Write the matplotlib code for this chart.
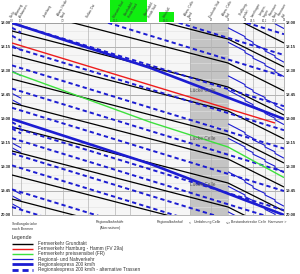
import matplotlib
matplotlib.use('Agg')
import matplotlib.pyplot as plt
from matplotlib.lines import Line2D
from matplotlib.patches import Rectangle

plt.rcParams['font.family'] = ['Liberation Sans', 'DejaVu Sans']

# ---------------- data ----------------
station_km = [0, 9, 33, 51, 76, 103, 118, 138, 153, 178, 199, 216, 233, 241, 253, 263, 272]
station_names = ["Stelle", "Abzweig\nAshausen", "Jesteburg", "Abzw. Heide\nNord",
                 "Soltau Ost", "Munster Süd", "Überholbhf.\nHeide Nord", "Überholbhf.\nHeide Süd",
                 "Unterlüß", "Abzw. Celle\nNord", "Eschede Süd", "Abzw. Celle\nSüd",
                 "Großburg-\nwedel", "Isernhagen", "Langen-\nhagen", "Hannover\nNord", "Hannover\nHbf"]
station_marks = ["0,0", "1,3", "", "7,2", "", "12,1", "", "", "19,3", "25", "28", "31", "33", "34,5", "36,2", "37,9", "39"]

time_ticks = [0, 15, 30, 45, 60, 75, 90, 105, 120]
time_labels = ["18.00", "18.15", "18.30", "18.45", "19.00", "19.15", "19.30", "19.45", "20.00"]

# running-time profiles (km, minutes after departure at first point)
black_km = [0, 216, 272]
black_min = [0, 35, 52.5]
black_dep = [-40, -25, -10, 5, 20, 35, 50, 65, 80, 95, 110]

red_km = [0, 263]
red_min = [0, 50]
red_dep = [12.5]

green_km = [0, 138, 216, 272]
green_min = [0, 31.3, 46.9, 66]
green_dep = [30.6]

re_km = [0, 138, 272]
re_min = [0, 28, 60]
re_dep = [0, 60]

alt_km = [0, 272]
alt_min = [0, 52]
alt_dep = [-45, -32, -18.5, 0, 15, 26.5, 41, 53, 65, 72, 81.5, 89, 104, 115]

reg_km = [216, 233, 233, 241, 241, 253, 253, 263, 263, 272]
reg_min = [0, 5.5, 6.5, 9, 10, 13.5, 14.5, 17.5, 18.5, 21.5]
reg_dep = [-18, 3, 12, 33, 42, 63, 72, 93, 102, 118]

short_km = [0, 9]
short_min = [0, 3]
short_dep = [14, 30, 44, 48, 75, 78, 104, 108, 113]

short_alt_dep = [3, 8, 62, 66]

luecke_min = [42, 72, 101]

# ---------------- figure ----------------
W, H = 300, 274
fig = plt.figure(figsize=(W / 100, H / 100), dpi=100)
L, R, T, B = 12, 284, 23, 215
ax = fig.add_axes([L / W, 1 - B / H, (R - L) / W, (B - T) / H])
ax.set_xlim(0, 272)
ax.set_ylim(120, 0)
ax.set_facecolor('#f6f6f6')
for s in ax.spines.values():
    s.set_color('#999999')
    s.set_linewidth(0.5)

# grey band (Umfahrung Celle)
ax.axvspan(178, 216, color='#c4c4c4', zorder=0.5, lw=0)

# grid
for m in range(0, 121, 5):
    ax.axhline(m, color='#e2e2e2' if m % 15 else '#a8a8a8', lw=0.4 if m % 15 else 0.6, zorder=0.6)
for k in station_km:
    ax.axvline(k, color='#b4b4b4', lw=0.5, zorder=0.7)

blue = '#1c1cd2'

def draw(kms, mins, deps, **kw):
    for d in deps:
        ax.plot(kms, [d + m for m in mins], solid_capstyle='butt', **kw)

draw(reg_km, reg_min, reg_dep, color=blue, lw=0.8, zorder=2)
draw(short_km, short_min, short_dep, color=blue, lw=0.8, zorder=2)
draw(black_km, black_min, black_dep, color='black', lw=0.9, zorder=3)
draw(alt_km, alt_min, alt_dep, color=blue, lw=1.4, dashes=(2.2, 1.6), zorder=3)
draw(short_km, short_min, short_alt_dep, color=blue, lw=1.4, dashes=(2.2, 1.6), zorder=3)
draw(red_km, red_min, red_dep, color='#ee1c1c', lw=1.0, zorder=4)
draw(green_km, green_min, green_dep, color='#3de03d', lw=1.0, zorder=4)
draw(re_km, re_min, re_dep, color=blue, lw=1.9, zorder=5)

for m in luecke_min:
    ax.text(191, m, "Lücke Celle", fontsize=3.4, color='#555555', ha='center', va='center', zorder=6)

ax.set_xticks([])
ax.set_yticks([])

# time labels left/right
for m, lab in zip(time_ticks, time_labels):
    ax.text(-1.2, m, lab, fontsize=2.9, fontweight='bold', ha='right', va='center', color='#222222')
    ax.text(274, m, lab, fontsize=2.9, fontweight='bold', ha='left', va='center', color='#222222')

# green boxes at top
fig.add_artist(Rectangle((110 / W, 1 - 22 / H), 37 / W, 22 / H, transform=fig.transFigure,
                         color='#10ee10', lw=0, zorder=0))
fig.add_artist(Rectangle((159 / W, 1 - 22 / H), 15 / W, 10 / H, transform=fig.transFigure,
                         color='#10ee10', lw=0, zorder=0))

# station labels
for k, name, mk in zip(station_km, station_names, station_marks):
    ax.text(k + 0.5, -3.0, name, fontsize=2.3, rotation=60, ha='left', va='bottom',
            color='#333333', rotation_mode='anchor', linespacing=1.0)
    ax.text(k, -0.6, mk, fontsize=2.0, ha='center', va='bottom', color='#444444')

# bottom labels
fs_b = 2.5
ax.text(0, 124.5, "Siedlungsbrücke\nnach Bremen", fontsize=fs_b, ha='left', va='top', color='#333333', linespacing=1.2)
ax.text(98, 123, "Regionalbahnhöfe\n(Alternativen)", fontsize=fs_b, ha='center', va='top', color='#333333', linespacing=1.7)
ax.text(158, 123, "Regionalbahnhof", fontsize=fs_b, ha='center', va='top', color='#333333')
ax.text(178, 123, "<", fontsize=fs_b, ha='center', va='top', color='#333333')
ax.text(195, 123, "Umfahrung Celle", fontsize=fs_b, ha='center', va='top', color='#333333')
ax.text(216, 123, "<->", fontsize=fs_b, ha='center', va='top', color='#333333')
ax.text(237, 123, "Bestandsstrecke Celle", fontsize=fs_b, ha='center', va='top', color='#333333')
ax.text(265, 123, "Hannover >", fontsize=fs_b, ha='center', va='top', color='#333333')

# legend
legend_labels = ["Fernverkehr Grundtakt", "Fernverkehr Hamburg - Hamm (FV 29a)",
                 "Fernverkehr preissensibel (FR)", "Regional- und Nahverkehr",
                 "Regionalexpress 200 km/h", "Regionalexpress 200 km/h - alternative Trassen"]
legend_styles = [dict(color='black', lw=1.0), dict(color='#ee1c1c', lw=1.0),
                 dict(color='#3de03d', lw=1.0), dict(color=blue, lw=0.9),
                 dict(color=blue, lw=2.0), dict(color=blue, lw=2.0, dashes=(2.2, 1.4))]
fig.text(12 / W, 1 - 238 / H, "Legende", fontsize=3.8, ha='left', va='center', color='#333333')
for i, (lab, st) in enumerate(zip(legend_labels, legend_styles)):
    y = 1 - (243.5 + i * 5.2) / H
    fig.add_artist(Line2D([12 / W, 33 / W], [y, y], transform=fig.transFigure, solid_capstyle='butt', **st))
    fig.text(38 / W, y, lab, fontsize=3.4, ha='left', va='center', color='#333333')

fig.savefig('out.png', dpi=100, facecolor='white')
